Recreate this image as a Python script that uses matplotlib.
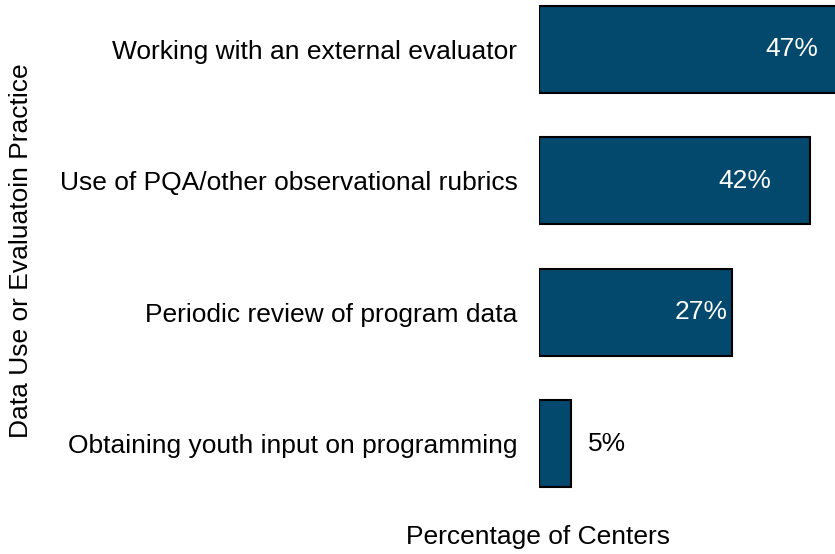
import matplotlib.pyplot as plt

plt.rcParams['font.family'] = ['Liberation Sans', 'DejaVu Sans']

# data
practices = ['Working with an external evaluator',
             'Use of PQA/other observational rubrics',
             'Periodic review of program data',
             'Obtaining youth input on programming']
bar_lengths = [47, 42, 30, 5]
value_labels = ['47%', '42%', '27%', '5%']

W, H = 835, 554
fs = 19
fig = plt.figure(figsize=(W / 100, H / 100), dpi=100)
ax = fig.add_axes([539 / W, 1 - 493 / H, 1 - 539 / W, 493 / H])

ypos = list(range(len(practices)))
ax.barh(ypos, bar_lengths, height=0.66, color='#03486d', edgecolor='black', linewidth=1.5)
ax.set_xlim(0, 45.9)
ax.set_ylim(3.376, -0.376)

# value labels (placed where they sit in the reference)
label_x = [39.2, 31.9, 25.1, 10.6]
for i, (lx, txt) in enumerate(zip(label_x, value_labels)):
    inside = bar_lengths[i] > 10
    ax.text(lx, i, txt, ha='center', va='center', fontsize=fs,
            color='white' if inside else 'black')

ax.set_yticks(ypos)
ax.set_yticklabels(practices, fontsize=fs)
ax.tick_params(axis='y', length=0, pad=15.5)
ax.set_xticks([])
for s in ax.spines.values():
    s.set_visible(False)

fig.text(21 / W, 1 - 251 / H, 'Data Use or Evaluatoin Practice', rotation=90,
         ha='center', va='center', fontsize=fs)
fig.text(538 / W, 1 - 537 / H, 'Percentage of Centers', ha='center', va='center', fontsize=fs)

fig.savefig('out.png', dpi=100)
